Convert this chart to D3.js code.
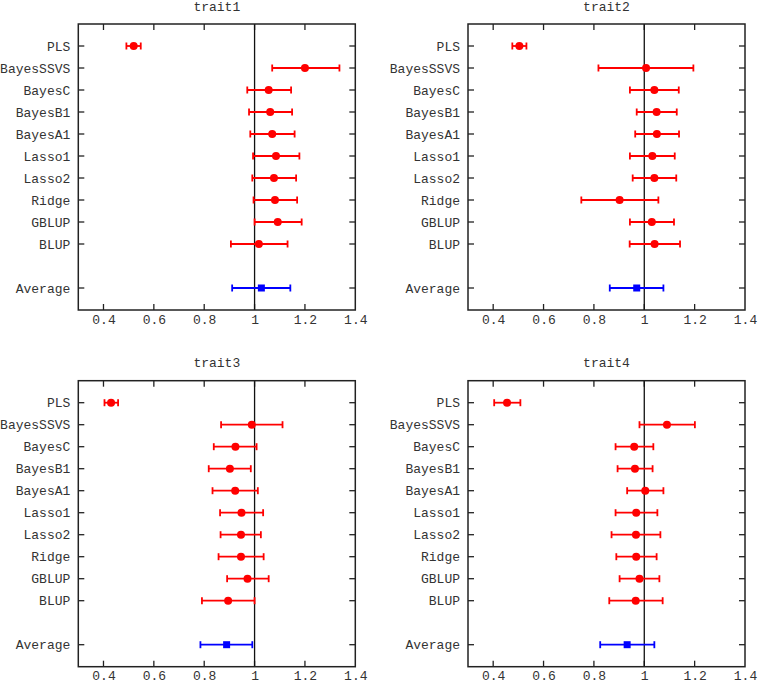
<!DOCTYPE html>
<html>
<head>
<meta charset="utf-8">
<script src="https://cdn.jsdelivr.net/npm/d3@7"></script>
<style>
  html, body { margin: 0; padding: 0; background: #fff; }
  svg { display: block; }
  text { font-family: "Liberation Mono", "DejaVu Sans Mono", monospace; fill: #333; }
</style>
</head>
<body>
<svg id="chart" width="760" height="685"></svg>
<script>
// ---------------- data ----------------
const methods = ["PLS", "BayesSSVS", "BayesC", "BayesB1", "BayesA1", "Lasso1", "Lasso2", "Ridge", "GBLUP", "BLUP"];
const averageLabel = "Average";
const traitNames = ["trait1", "trait2", "trait3", "trait4"];
const xTicks = [0.4, 0.6, 0.8, 1.0, 1.2, 1.4];
const xTickLabels = ["0.4", "0.6", "0.8", "1", "1.2", "1.4"];

const trait1Mean = [0.52, 1.20, 1.056, 1.062, 1.070, 1.085, 1.077, 1.081, 1.092, 1.017];
const trait1Lo   = [0.491, 1.070, 0.971, 0.978, 0.983, 0.994, 0.991, 0.996, 1.000, 0.906];
const trait1Hi   = [0.548, 1.337, 1.145, 1.149, 1.159, 1.178, 1.165, 1.169, 1.187, 1.131];
const trait1Avg  = [1.027, 0.911, 1.142];

const trait2Mean = [0.504, 1.007, 1.040, 1.049, 1.050, 1.032, 1.040, 0.902, 1.030, 1.041];
const trait2Lo   = [0.476, 0.818, 0.943, 0.970, 0.964, 0.943, 0.954, 0.750, 0.943, 0.942];
const trait2Hi   = [0.532, 1.195, 1.137, 1.129, 1.138, 1.121, 1.127, 1.056, 1.118, 1.142];
const trait2Avg  = [0.970, 0.863, 1.076];

const trait3Mean = [0.430, 0.989, 0.924, 0.902, 0.923, 0.948, 0.946, 0.946, 0.972, 0.895];
const trait3Lo   = [0.404, 0.867, 0.838, 0.818, 0.833, 0.863, 0.865, 0.857, 0.891, 0.791];
const trait3Hi   = [0.458, 1.111, 1.008, 0.985, 1.013, 1.034, 1.025, 1.036, 1.056, 1.000];
const trait3Avg  = [0.889, 0.785, 0.991];

const trait4Mean = [0.455, 1.090, 0.960, 0.963, 1.004, 0.968, 0.967, 0.968, 0.981, 0.966];
const trait4Lo   = [0.404, 0.981, 0.886, 0.894, 0.932, 0.886, 0.870, 0.889, 0.902, 0.861];
const trait4Hi   = [0.508, 1.201, 1.036, 1.033, 1.076, 1.052, 1.064, 1.049, 1.060, 1.073];
const trait4Avg  = [0.932, 0.825, 1.040];

const panelsData = [
  { name: traitNames[0], mean: trait1Mean, lo: trait1Lo, hi: trait1Hi, avg: trait1Avg },
  { name: traitNames[1], mean: trait2Mean, lo: trait2Lo, hi: trait2Hi, avg: trait2Avg },
  { name: traitNames[2], mean: trait3Mean, lo: trait3Lo, hi: trait3Hi, avg: trait3Avg },
  { name: traitNames[3], mean: trait4Mean, lo: trait4Lo, hi: trait4Hi, avg: trait4Avg }
];

// ---------------- layout ----------------
const svg = d3.select("#chart");
const pw = 277, ph = 286;
const origins = [[78.3, 24], [468, 24], [78.3, 380.7], [468, 380.7]];
const frameColor = "#222";
const tickLen = 6;

const yDomain = methods.concat([" ", averageLabel]);

panelsData.forEach((p, i) => {
  const [ox, oy] = origins[i];
  const g = svg.append("g").attr("transform", `translate(${ox},${oy})`);

  const x = d3.scaleLinear().domain([0.3, 1.4]).range([0, pw]);
  const y = d3.scalePoint().domain(yDomain).range([0, ph]).padding(1);

  // title
  g.append("text")
    .attr("x", pw / 2).attr("y", -13.5)
    .attr("text-anchor", "middle")
    .style("font-size", "13px")
    .text(p.name);

  // bottom axis labels
  const axB = g.append("g").attr("transform", `translate(0,${ph})`)
    .call(d3.axisBottom(x).tickValues(xTicks).tickSize(0).tickPadding(4.5)
      .tickFormat((d, k) => xTickLabels[k]));
  axB.select(".domain").remove();
  axB.selectAll("text").style("font-size", "13px").style("fill", "#333")
    .style("font-family", '"Liberation Mono", monospace');

  // left axis labels
  const cats = methods.concat([averageLabel]);
  const axL = g.append("g")
    .call(d3.axisLeft(y).tickValues(cats).tickSize(0).tickPadding(8));
  axL.select(".domain").remove();
  axL.selectAll("text").style("font-size", "13px").style("fill", "#333")
    .style("font-family", '"Liberation Mono", monospace');

  // inward ticks
  const tk = g.append("g").attr("stroke", frameColor).attr("stroke-width", 1.3);
  xTicks.filter(v => v < 1.4).forEach(v => {
    tk.append("line").attr("x1", x(v)).attr("x2", x(v)).attr("y1", 0).attr("y2", tickLen);
    tk.append("line").attr("x1", x(v)).attr("x2", x(v)).attr("y1", ph).attr("y2", ph - tickLen);
  });
  cats.forEach(c => {
    tk.append("line").attr("x1", 0).attr("x2", tickLen).attr("y1", y(c)).attr("y2", y(c));
    tk.append("line").attr("x1", pw).attr("x2", pw - tickLen).attr("y1", y(c)).attr("y2", y(c));
  });

  // reference line at 1
  g.append("line")
    .attr("x1", x(1)).attr("x2", x(1)).attr("y1", 0).attr("y2", ph)
    .attr("stroke", "#111").attr("stroke-width", 1.3);

  // frame
  g.append("rect").attr("x", 0).attr("y", 0).attr("width", pw).attr("height", ph)
    .attr("fill", "none").attr("stroke", frameColor).attr("stroke-width", 1.5);

  // error bars for methods
  const rows = methods.map((m, k) => ({ m, mean: p.mean[k], lo: p.lo[k], hi: p.hi[k] }));
  const capH = 3.5;
  const red = "#f00";
  const eb = g.append("g").attr("stroke", red).attr("stroke-width", 1.8).attr("fill", "none");
  rows.forEach(r => {
    const yy = y(r.m);
    eb.append("line").attr("x1", x(r.lo)).attr("x2", x(r.hi)).attr("y1", yy).attr("y2", yy);
    eb.append("line").attr("x1", x(r.lo)).attr("x2", x(r.lo)).attr("y1", yy - capH).attr("y2", yy + capH);
    eb.append("line").attr("x1", x(r.hi)).attr("x2", x(r.hi)).attr("y1", yy - capH).attr("y2", yy + capH);
  });
  g.append("g").selectAll("circle").data(rows).join("circle")
    .attr("cx", d => x(d.mean)).attr("cy", d => y(d.m)).attr("r", 4)
    .attr("fill", red);

  // average
  const blue = "#00f";
  const ya = y(averageLabel);
  const [am, al, ah] = p.avg;
  const ab = g.append("g").attr("stroke", blue).attr("stroke-width", 1.8);
  ab.append("line").attr("x1", x(al)).attr("x2", x(ah)).attr("y1", ya).attr("y2", ya);
  ab.append("line").attr("x1", x(al)).attr("x2", x(al)).attr("y1", ya - capH).attr("y2", ya + capH);
  ab.append("line").attr("x1", x(ah)).attr("x2", x(ah)).attr("y1", ya - capH).attr("y2", ya + capH);
  g.append("rect").attr("x", x(am) - 3.5).attr("y", ya - 3.5).attr("width", 7).attr("height", 7)
    .attr("fill", blue);
});
</script>
</body>
</html>
